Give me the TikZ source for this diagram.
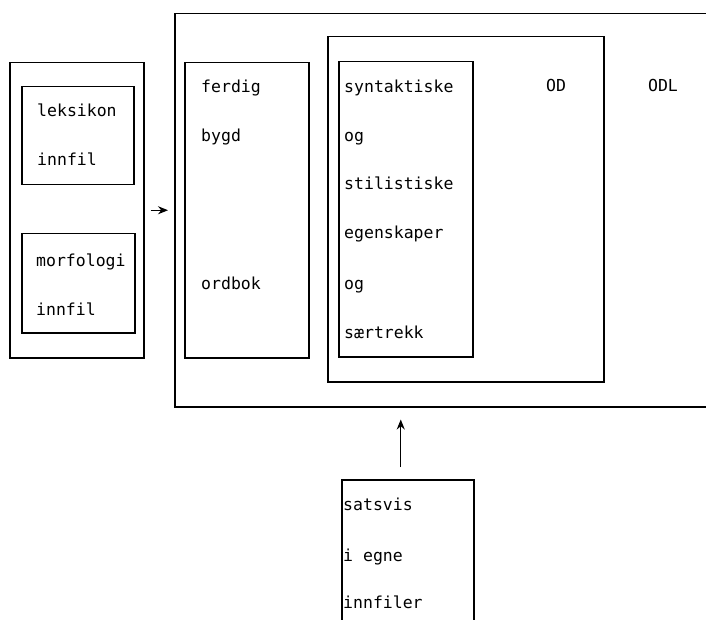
\documentclass[tikz,border=0pt]{standalone}
\usepackage{fontspec}
\setmonofont{DejaVu Sans Mono}
\usetikzlibrary{arrows.meta,calc}
\tikzset{
  box/.style={draw, line width=1.5pt, inner sep=0pt, anchor=north west},
  lbl/.style={inner sep=0pt, anchor=base west, font=\ttfamily\fontsize{16.5}{18}\selectfont},
  clbl/.style={inner sep=0pt, anchor=base, font=\ttfamily\fontsize{16.5}{18}\selectfont},
  arr/.style={line width=1.3pt, -{Stealth[length=10pt,width=8pt]}}
}
\begin{document}
\begin{tikzpicture}[x=1pt,y=-1pt]
\useasboundingbox (0,0) rectangle (706,620);
\clip (0,0) rectangle (706,620);
% left group
\node[box, minimum width=134pt, minimum height=295pt] (leftouter) at (9,62) {};
\node[box, minimum width=112pt, minimum height=98pt] (lex) at (21,86) {};
\node[box, minimum width=113pt, minimum height=99pt] (morf) at (21,233) {};
\node[lbl] (t1) at (37,117) {leksikon};
\node[lbl] (t2) at (37,166) {innfil};
\node[lbl] (t3) at (36,266) {morfologi};
\node[lbl] (t4) at (36,315) {innfil};
% big box (right edge cut off)
\node[box, minimum width=560pt, minimum height=393pt] (big) at (174,13) {};
\node[box, minimum width=124pt, minimum height=295pt] (ferd) at (184,62) {};
\node[box, minimum width=276pt, minimum height=345pt] (mid) at (327,36) {};
\node[box, minimum width=134pt, minimum height=295pt] (syn) at (338,61) {};
\node[lbl] (f1) at (201,93) {ferdig};
\node[lbl] (f2) at (201,142) {bygd};
\node[lbl] (f3) at (201,289) {ordbok};
\node[lbl] (s1) at (344,93) {syntaktiske};
\node[lbl] (s2) at (344,142) {og};
\node[lbl] (s3) at (344,190) {stilistiske};
\node[lbl] (s4) at (344,239) {egenskaper};
\node[lbl] (s5) at (344,289) {og};
\node[lbl] (s6) at (344,338) {særtrekk};
\node[clbl] (od) at (556,92) {OD};
\node[clbl] (odl) at (663,92) {ODL};
% bottom box (bottom edge cut off)
\node[box, minimum width=132pt, minimum height=170pt] (sats) at (341,479) {};
\node[lbl] (b1) at (343,510) {satsvis};
\node[lbl] (b2) at (343,561) {i egne};
\node[lbl] (b3) at (343,608) {innfiler};
% arrows
\draw[arr] ([xshift=6pt]leftouter.east) -- ([xshift=-6pt]big.west);
\draw[arr] ([xshift=-7pt,yshift=12pt]sats.north) -- ([xshift=-7pt,yshift=-12pt]sats.north |- big.south);
\end{tikzpicture}
\end{document}
